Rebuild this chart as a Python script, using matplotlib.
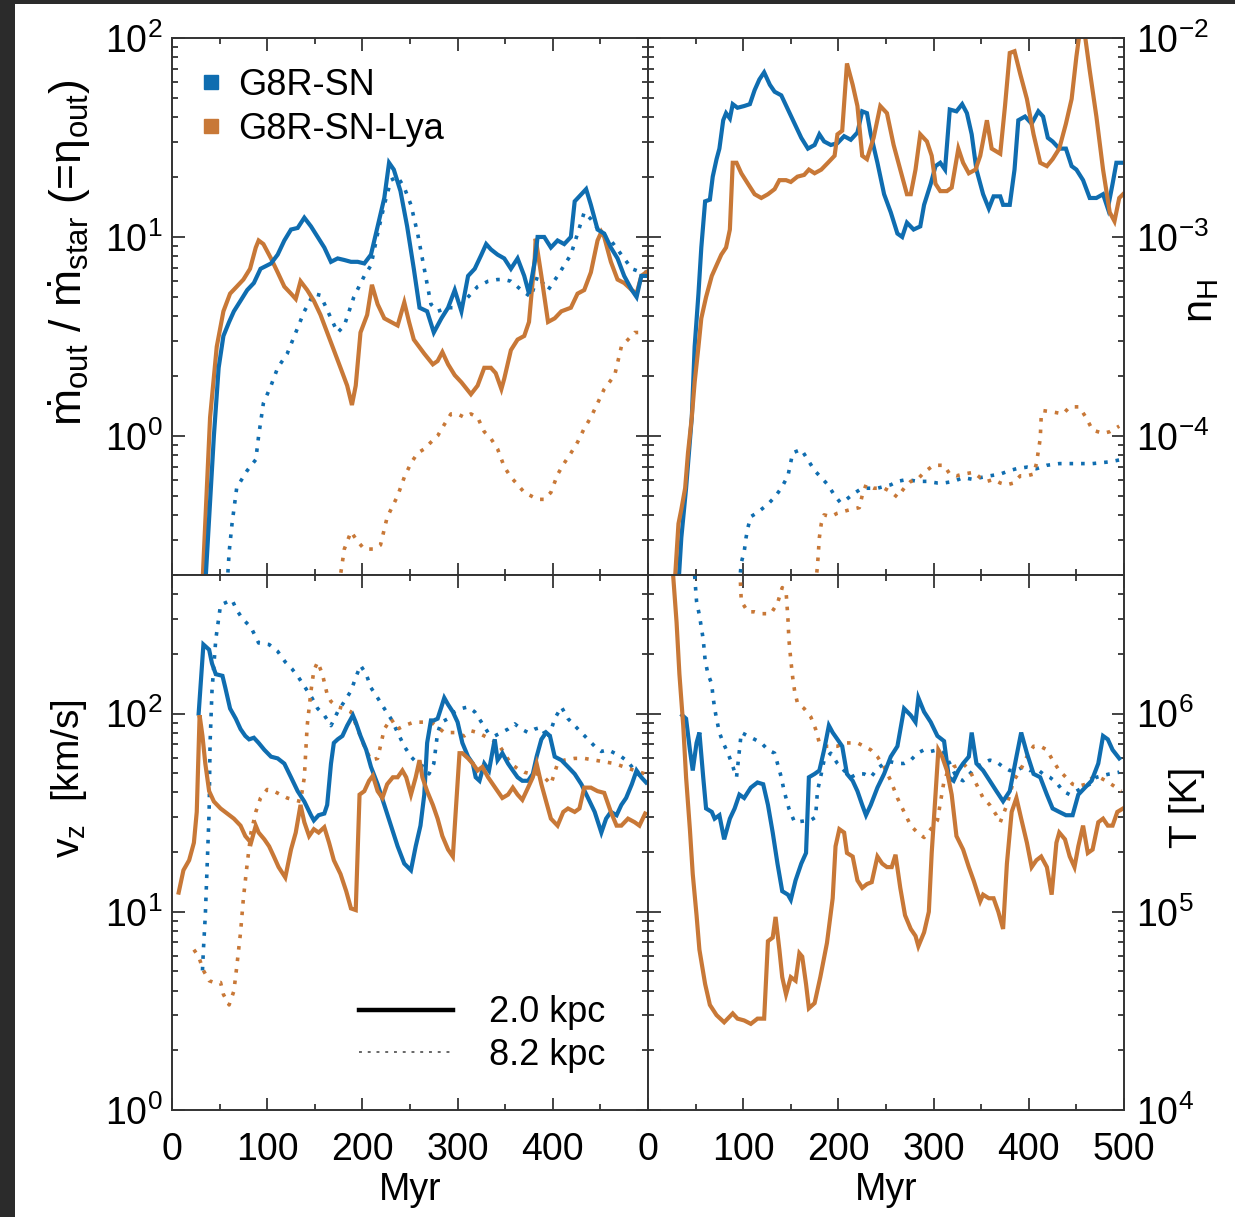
import matplotlib
matplotlib.use("Agg")
import matplotlib.pyplot as plt
from matplotlib.lines import Line2D
from matplotlib.patches import Rectangle
from matplotlib.ticker import LogLocator, FixedLocator, NullFormatter

plt.rcParams['font.family'] = ['Liberation Sans', 'DejaVu Sans']
plt.rcParams['mathtext.fontset'] = 'custom'
plt.rcParams['mathtext.rm'] = 'Liberation Sans'
plt.rcParams['mathtext.it'] = 'Liberation Sans:italic'
plt.rcParams['mathtext.default'] = 'regular'
plt.rcParams['axes.unicode_minus'] = False

BLUE = '#0f6db0'
ORANGE = '#c87837'

# (Myr, value) pairs
# outflow loading factor
eta_sn_2 = [(35, 0.18), (44, 1.0), (49, 2.2), (54, 3.18), (60, 3.74), (65, 4.23), (72, 4.78), (79, 5.41), (86, 5.87),
            (93, 6.92), (104, 7.36), (111, 8.15), (118, 9.6), (125, 10.9), (132, 11.1), (139, 12.5), (146, 11.3),
            (153, 10.0), (160, 8.85), (167, 7.5), (174, 7.8), (181, 7.66), (188, 7.5), (195, 7.5), (202, 7.36),
            (209, 8.15), (216, 11.3), (223, 15.7), (228, 23.6), (233, 21.8), (240, 17.0), (247, 11.3), (254, 6.92),
            (260, 4.41), (268, 4.23), (275, 3.31), (283, 3.9), (290, 4.41), (297, 5.41), (304, 4.23), (311, 6.37),
            (318, 6.92), (325, 8.15), (330, 9.21), (335, 8.66), (342, 8.15), (349, 7.8), (356, 6.92), (363, 7.8),
            (370, 6.37), (375, 5.19), (381, 7.5), (384, 10.0), (391, 10.0), (398, 8.85), (405, 9.6), (412, 9.21),
            (419, 10.0), (423, 15.1), (430, 16.4), (435, 17.4), (440, 14.5), (447, 10.9), (454, 10.4), (461, 8.85),
            (468, 7.8), (475, 6.37), (483, 5.41), (488, 4.99), (493, 6.37), (498, 6.37)]
eta_lya_2 = [(32, 0.18), (40, 1.24), (47, 2.81), (54, 4.23), (61, 5.19), (68, 5.63), (75, 6.11), (82, 6.92), (88, 8.85),
             (91, 9.6), (96, 9.21), (104, 7.8), (111, 6.64), (118, 5.63), (125, 5.19), (130, 4.88), (135, 5.99),
             (142, 5.41), (149, 4.78), (156, 4.06), (163, 3.31), (170, 2.70), (177, 2.2), (184, 1.79), (189, 1.43),
             (193, 1.79), (198, 3.31), (205, 4.06), (210, 5.75), (216, 4.59), (223, 3.9), (230, 3.74), (237, 3.59),
             (244, 4.69), (249, 3.74), (254, 3.05), (265, 2.59), (274, 2.29), (279, 2.38), (284, 2.64), (290, 2.29),
             (297, 2.02), (304, 1.86), (314, 1.62), (321, 1.79), (328, 2.2), (335, 2.2), (340, 2.07), (346, 1.72),
             (349, 1.94), (356, 2.70), (363, 3.05), (370, 3.18), (375, 3.74), (381, 7.8), (382, 9.8), (388, 6.37),
             (395, 3.74), (402, 3.9), (409, 4.23), (419, 4.41), (426, 5.19), (433, 5.41), (440, 6.64), (447, 9.6),
             (451, 10.6), (454, 10.0), (461, 7.5), (468, 6.11), (475, 5.87), (483, 5.41), (488, 5.19), (493, 6.37),
             (498, 6.64)]
eta_sn_8 = [(58, 0.18), (60, 0.26), (63, 0.36), (68, 0.55), (79, 0.67), (88, 0.76), (91, 1.0), (96, 1.46), (104, 1.79),
            (111, 2.2), (121, 2.59), (130, 3.31), (139, 4.23), (149, 5.19), (156, 5.09), (167, 3.9), (174, 3.31),
            (181, 3.59), (191, 4.99), (202, 6.37), (209, 7.2), (216, 10.4), (223, 14.5), (230, 19.3), (237, 20.1),
            (244, 17.7), (251, 14.5), (258, 10.4), (265, 6.92), (272, 4.59), (279, 4.23), (290, 4.41), (300, 4.41),
            (311, 4.99), (321, 5.63), (332, 5.99), (342, 6.11), (349, 6.11), (356, 5.99), (367, 5.41), (377, 4.99),
            (384, 6.37), (395, 5.41), (405, 6.37), (419, 8.15), (426, 10.4), (433, 13.3), (440, 12.3), (451, 10.4),
            (461, 9.6), (472, 8.15), (483, 6.92), (493, 6.64), (498, 6.64)]
eta_lya_8 = [(175, 0.18), (177, 0.20), (181, 0.27), (188, 0.33), (195, 0.295), (202, 0.27), (212, 0.27), (219, 0.283),
             (226, 0.39), (237, 0.50), (244, 0.62), (251, 0.73), (258, 0.82), (265, 0.86), (272, 0.93), (279, 1.0),
             (286, 1.14), (293, 1.29), (300, 1.29), (307, 1.24), (314, 1.29), (321, 1.24), (328, 1.05), (335, 0.97),
             (342, 0.86), (349, 0.70), (356, 0.62), (363, 0.57), (370, 0.52), (377, 0.50), (384, 0.48), (391, 0.48),
             (398, 0.52), (405, 0.64), (412, 0.73), (419, 0.82), (426, 0.93), (433, 1.09), (440, 1.24), (447, 1.46),
             (454, 1.72), (465, 2.02), (472, 2.81), (479, 3.05), (486, 3.31), (497, 3.31)]

# hydrogen number density
nh_sn_2 = [(32, 1.8e-5), (35, 3.08e-5), (40, 5.46e-5), (46, 1.24e-4), (49, 2.81e-4), (53, 5.19e-4), (56, 8.85e-4),
           (60, 1.51e-3), (65, 1.54e-3), (68, 2.01e-3), (72, 2.46e-3), (75, 2.78e-3), (79, 3.86e-3), (82, 4.19e-3),
           (86, 3.94e-3), (89, 4.65e-3), (94, 4.46e-3), (101, 4.55e-3), (107, 4.65e-3), (112, 5.47e-3), (117, 6.19e-3),
           (122, 6.72e-3), (128, 5.82e-3), (133, 5.37e-3), (140, 5.15e-3), (147, 4.37e-3), (154, 3.71e-3),
           (161, 3.15e-3), (168, 2.78e-3), (175, 2.90e-3), (180, 3.28e-3), (185, 3.02e-3), (192, 2.90e-3),
           (199, 2.96e-3), (206, 3.21e-3), (213, 3.08e-3), (220, 3.35e-3), (225, 4.28e-3), (230, 4.19e-3),
           (234, 3.28e-3), (241, 2.36e-3), (248, 1.64e-3), (255, 1.33e-3), (262, 1.04e-3), (267, 1.0e-3),
           (272, 1.18e-3), (279, 1.09e-3), (286, 1.13e-3), (290, 1.45e-3), (297, 1.85e-3), (302, 2.27e-3),
           (307, 2.36e-3), (312, 2.18e-3), (317, 4.37e-3), (324, 4.28e-3), (330, 4.65e-3), (335, 4.19e-3),
           (340, 3.28e-3), (345, 2.18e-3), (352, 1.64e-3), (358, 1.39e-3), (363, 1.60e-3), (370, 1.60e-3),
           (373, 1.45e-3), (380, 1.45e-3), (385, 2.18e-3), (389, 3.86e-3), (396, 4.03e-3), (403, 3.71e-3),
           (410, 4.28e-3), (415, 4.03e-3), (420, 3.15e-3), (425, 3.02e-3), (432, 2.78e-3), (439, 2.78e-3),
           (445, 2.27e-3), (450, 2.18e-3), (457, 1.93e-3), (464, 1.57e-3), (471, 1.57e-3), (478, 1.64e-3),
           (483, 1.39e-3), (488, 1.85e-3), (492, 2.36e-3), (497, 2.36e-3)]
nh_lya_2 = [(28, 1.8e-5), (32, 3.62e-5), (35, 4.27e-5), (39, 5.46e-5), (42, 8.22e-5), (46, 1.24e-4), (49, 1.86e-4),
            (53, 2.81e-4), (56, 3.90e-4), (61, 4.99e-4), (67, 6.37e-4), (72, 7.21e-4), (77, 8.15e-4), (82, 8.85e-4),
            (86, 1.09e-3), (89, 2.36e-3), (93, 2.36e-3), (98, 2.09e-3), (105, 1.85e-3), (112, 1.64e-3), (119, 1.57e-3),
            (126, 1.64e-3), (133, 1.74e-3), (138, 1.93e-3), (145, 1.93e-3), (150, 1.89e-3), (157, 2.01e-3),
            (164, 2.05e-3), (169, 2.18e-3), (175, 2.09e-3), (182, 2.18e-3), (189, 2.36e-3), (196, 2.56e-3),
            (199, 3.28e-3), (204, 3.42e-3), (209, 7.45e-3), (215, 5.82e-3), (220, 4.55e-3), (225, 2.56e-3),
            (230, 2.46e-3), (237, 3.15e-3), (244, 4.55e-3), (251, 4.19e-3), (258, 2.90e-3), (265, 2.18e-3),
            (272, 1.64e-3), (276, 1.64e-3), (281, 2.18e-3), (286, 3.28e-3), (293, 3.02e-3), (298, 2.56e-3),
            (302, 1.85e-3), (307, 1.70e-3), (314, 1.70e-3), (319, 1.77e-3), (326, 2.78e-3), (331, 2.36e-3),
            (337, 2.09e-3), (344, 2.18e-3), (349, 2.56e-3), (356, 3.86e-3), (361, 2.78e-3), (370, 2.62e-3),
            (375, 4.55e-3), (380, 8.41e-3), (385, 8.58e-3), (391, 6.59e-3), (398, 4.94e-3), (405, 3.28e-3),
            (412, 2.36e-3), (419, 2.27e-3), (425, 2.46e-3), (432, 2.78e-3), (439, 3.71e-3), (445, 4.94e-3),
            (450, 8.07e-3), (453, 1.03e-2), (459, 1.03e-2), (464, 6.86e-3), (471, 4.03e-3), (478, 2.18e-3),
            (485, 1.33e-3), (490, 1.20e-3), (495, 1.57e-3), (499, 1.64e-3)]
nh_sn_8 = [(96, 1.8e-5), (98, 2.31e-5), (101, 2.61e-5), (103, 3.08e-5), (105, 3.47e-5), (108, 3.93e-5), (114, 4.09e-5),
           (119, 4.27e-5), (126, 4.54e-5), (133, 4.92e-5), (140, 5.46e-5), (147, 6.30e-5), (152, 8.22e-5),
           (161, 8.56e-5), (168, 7.57e-5), (175, 6.70e-5), (182, 6.17e-5), (189, 5.68e-5), (196, 5.02e-5),
           (202, 4.63e-5), (209, 4.82e-5), (216, 5.13e-5), (225, 5.46e-5), (234, 5.46e-5), (241, 5.46e-5),
           (248, 5.57e-5), (255, 5.68e-5), (262, 5.91e-5), (272, 6.04e-5), (283, 5.91e-5), (293, 5.91e-5),
           (304, 5.80e-5), (311, 5.80e-5), (321, 5.91e-5), (331, 6.17e-5), (342, 6.04e-5), (349, 6.17e-5),
           (359, 6.30e-5), (370, 6.43e-5), (380, 6.70e-5), (387, 6.84e-5), (398, 6.97e-5), (408, 6.84e-5),
           (419, 7.12e-5), (432, 7.26e-5), (450, 7.26e-5), (467, 7.26e-5), (485, 7.41e-5), (495, 7.57e-5)]
nh_lya_8 = [(176, 1.8e-5), (178, 2.21e-5), (180, 3.08e-5), (182, 3.62e-5), (185, 4.01e-5), (192, 3.93e-5),
            (199, 4.09e-5), (206, 4.18e-5), (213, 4.27e-5), (222, 4.36e-5), (225, 5.02e-5), (229, 5.68e-5),
            (237, 5.46e-5), (248, 5.46e-5), (255, 5.24e-5), (262, 4.92e-5), (269, 5.46e-5), (276, 5.91e-5),
            (283, 6.04e-5), (290, 6.56e-5), (300, 7.12e-5), (311, 7.12e-5), (317, 6.43e-5), (324, 6.30e-5),
            (331, 6.43e-5), (342, 6.56e-5), (349, 6.17e-5), (356, 5.91e-5), (363, 6.04e-5), (370, 5.80e-5),
            (377, 5.68e-5), (384, 5.80e-5), (391, 6.30e-5), (398, 6.30e-5), (405, 6.43e-5), (408, 7.26e-5),
            (412, 9.68e-5), (413, 1.24e-4), (415, 1.34e-4), (425, 1.32e-4), (436, 1.29e-4), (443, 1.40e-4),
            (453, 1.40e-4), (460, 1.24e-4), (467, 1.07e-4), (478, 1.03e-4), (485, 1.05e-4), (495, 1.12e-4)]

# outflow velocity [km/s]
vz_sn_2 = [(28, 100), (33, 223), (39, 210), (42, 179), (46, 158), (53, 155), (56, 135), (61, 106), (67, 94.2),
           (72, 83.5), (77, 77.1), (81, 74.1), (86, 75.5), (91, 71.1), (97, 65.6), (104, 60.6), (111, 59.4),
           (118, 55.9), (125, 47.7), (132, 40.6), (139, 36.0), (146, 30.7), (149, 28.9), (154, 30.7), (160, 31.3),
           (163, 34.6), (167, 55.9), (170, 71.1), (174, 74.1), (179, 77.1), (184, 86.9), (190, 98.0), (193, 90.5),
           (198, 77.1), (204, 65.6), (209, 53.8), (216, 44.0), (223, 34.6), (230, 27.2), (237, 21.4), (244, 17.5),
           (251, 16.2), (256, 21.4), (261, 27.2), (265, 39.0), (268, 71.1), (272, 92.3), (275, 92.3), (279, 94.2),
           (283, 108), (286, 120), (290, 111), (295, 102), (300, 90.5), (305, 71.1), (311, 60.6), (316, 55.9),
           (319, 47.7), (323, 45.8), (328, 55.9), (333, 51.6), (339, 74.1), (342, 58.2), (347, 63.1), (353, 55.9),
           (358, 51.6), (363, 47.7), (368, 45.8), (374, 45.8), (379, 49.6), (383, 60.6), (388, 74.1), (393, 80.2),
           (397, 77.1), (402, 60.6), (409, 58.2), (416, 53.8), (423, 49.6), (430, 44.0), (437, 37.5), (444, 31.9),
           (451, 25.1), (456, 29.5), (461, 31.9), (467, 30.7), (472, 34.6), (477, 37.5), (483, 44.0), (488, 51.6),
           (493, 47.7), (498, 44.9)]
vz_lya_2 = [(7, 12.5), (12, 16.2), (18, 18.2), (23, 22.3), (26, 31.9), (29, 98.0), (32, 77.1), (35, 55.9), (39, 40.6),
            (44, 36.0), (51, 33.2), (58, 31.3), (65, 29.5), (72, 27.2), (77, 24.1), (83, 22.3), (88, 27.2), (91, 25.1),
            (97, 23.2), (102, 21.4), (107, 19.0), (112, 16.8), (119, 14.9), (125, 20.6), (130, 25.1), (135, 34.6),
            (139, 28.3), (144, 24.1), (149, 26.1), (154, 25.1), (160, 26.7), (165, 22.3), (170, 18.2), (177, 15.5),
            (183, 12.7), (188, 10.4), (193, 10.2), (197, 39.0), (202, 40.6), (207, 45.8), (211, 48.6), (216, 40.6),
            (221, 37.5), (226, 44.0), (232, 47.7), (237, 47.7), (242, 51.6), (246, 47.7), (251, 39.0), (256, 47.7),
            (260, 58.2), (263, 47.7), (268, 40.6), (274, 34.6), (279, 29.5), (284, 24.1), (290, 20.6), (295, 19.0),
            (298, 31.9), (302, 63.1), (305, 63.1), (311, 59.4), (316, 55.9), (321, 51.6), (326, 53.8), (332, 47.7),
            (337, 44.0), (342, 40.6), (347, 37.5), (353, 39.0), (358, 42.3), (363, 39.0), (368, 36.7), (374, 42.3),
            (379, 47.7), (383, 55.9), (388, 44.0), (393, 36.0), (398, 29.5), (405, 27.2), (411, 31.9), (416, 33.2),
            (423, 31.9), (428, 33.2), (433, 42.3), (440, 42.3), (447, 40.6), (454, 39.8), (461, 31.9), (467, 27.2),
            (472, 27.2), (479, 29.5), (486, 28.3), (491, 27.2), (497, 31.3)]
vz_sn_8 = [(32, 5.06), (33, 6.44), (35, 9.6), (37, 17.5), (39, 31.9), (40, 71.1), (42, 130), (46, 237), (51, 353),
           (63, 375), (68, 333), (74, 301), (83, 272), (91, 227), (102, 223), (111, 206), (119, 182), (126, 168),
           (133, 152), (140, 135), (147, 120), (153, 106), (160, 98), (167, 86.9), (174, 102), (181, 115), (188, 130),
           (193, 152), (198, 175), (204, 158), (209, 135), (216, 120), (223, 106), (230, 94.2), (237, 80.2),
           (244, 68.4), (251, 60.6), (258, 55.9), (265, 53.8), (270, 49.6), (275, 55.9), (279, 80.2), (283, 90.5),
           (290, 94.2), (297, 102), (304, 106), (311, 108), (318, 102), (325, 90.5), (332, 80.2), (339, 77.1),
           (346, 80.2), (353, 83.5), (360, 88.7), (367, 83.5), (374, 80.2), (381, 83.5), (388, 85.2), (395, 74.1),
           (402, 94.2), (409, 108), (416, 94.2), (423, 86.9), (430, 80.2), (437, 74.1), (444, 68.4), (451, 64.4),
           (458, 65.6), (465, 63.1), (472, 60.6), (479, 57.1), (486, 51.6), (493, 47.7), (498, 47.7)]
vz_lya_8 = [(23, 6.44), (28, 5.94), (33, 5.06), (39, 4.49), (44, 4.40), (51, 4.40), (54, 3.83), (60, 3.39), (65, 3.98),
            (68, 5.27), (72, 7.87), (75, 11.7), (79, 17.5), (83, 25.1), (88, 31.9), (93, 37.5), (100, 41.4),
            (107, 40.6), (114, 39.0), (121, 37.5), (128, 36.7), (135, 36.0), (139, 47.7), (142, 86.9), (146, 130),
            (149, 165), (153, 182), (158, 158), (163, 125), (167, 115), (174, 108), (181, 106), (188, 102), (195, 83.5),
            (202, 68.4), (209, 58.2), (216, 59.4), (223, 83.5), (230, 94.2), (237, 83.5), (244, 86.9), (254, 90.5),
            (265, 90.5), (275, 88.7), (286, 80.2), (297, 80.2), (307, 77.1), (314, 81.9), (321, 80.2), (328, 77.1),
            (335, 74.1), (342, 71.1), (349, 63.1), (356, 55.9), (363, 52.7), (370, 50.6), (377, 49.6), (384, 49.6),
            (391, 47.7), (398, 44.0), (405, 55.9), (412, 58.2), (423, 59.4), (433, 59.4), (444, 58.2), (454, 57.1),
            (465, 55.9), (475, 53.8), (486, 51.6), (497, 49.6)]

# temperature [K]
t_sn_2 = [(36, 9.8e5), (40, 9.42e5), (44, 6.56e5), (47, 5.16e5), (51, 7.11e5), (54, 8.02e5), (58, 4.77e5),
          (61, 3.32e5), (67, 3.19e5), (70, 2.95e5), (75, 3.07e5), (80, 2.32e5), (86, 2.95e5), (91, 3.32e5),
          (96, 3.90e5), (101, 3.75e5), (108, 4.23e5), (115, 4.49e5), (121, 4.40e5), (126, 3.46e5), (131, 2.51e5),
          (136, 1.75e5), (141, 1.27e5), (147, 1.22e5), (150, 1.15e5), (155, 1.44e5), (161, 1.75e5), (166, 1.98e5),
          (169, 4.77e5), (175, 4.96e5), (180, 5.16e5), (185, 6.56e5), (190, 8.7e5), (194, 8.02e5), (199, 7.41e5),
          (204, 6.84e5), (209, 4.96e5), (215, 4.58e5), (220, 4.06e5), (225, 3.46e5), (229, 3.07e5), (234, 3.46e5),
          (241, 4.23e5), (248, 4.96e5), (255, 6.06e5), (262, 6.84e5), (269, 1.06e6), (276, 9.8e5), (281, 9.05e5),
          (284, 1.20e6), (290, 1.02e6), (297, 9.05e5), (304, 7.71e5), (311, 7.26e5), (316, 4.77e5), (321, 4.58e5),
          (326, 5.16e5), (331, 5.60e5), (337, 6.06e5), (340, 8.02e5), (345, 5.60e5), (352, 5.16e5), (359, 4.58e5),
          (366, 4.06e5), (373, 3.61e5), (380, 4.06e5), (387, 6.06e5), (392, 8.02e5), (398, 6.31e5), (405, 4.96e5),
          (412, 4.77e5), (419, 3.90e5), (425, 3.32e5), (432, 3.19e5), (439, 3.07e5), (446, 3.07e5), (452, 3.90e5),
          (459, 4.23e5), (466, 4.58e5), (473, 5.60e5), (478, 7.71e5), (483, 7.41e5), (488, 6.56e5), (495, 5.94e5)]
t_lya_2 = [(26, 5.3e6), (30, 2.89e6), (33, 1.58e6), (37, 8.7e5), (40, 4.77e5), (44, 2.61e5), (47, 1.55e5), (51, 9.6e4),
           (54, 6.44e4), (60, 4.32e4), (65, 3.39e4), (72, 3.01e4), (80, 2.77e4), (89, 3.07e4), (94, 2.89e4),
           (101, 2.83e4), (108, 2.72e4), (115, 2.89e4), (122, 2.89e4), (126, 7.11e4), (131, 7.41e4), (134, 9.42e4),
           (138, 6.44e4), (141, 4.68e4), (145, 3.83e4), (150, 4.68e4), (155, 4.49e4), (159, 6.18e4), (162, 5.94e4),
           (166, 4.32e4), (169, 3.26e4), (175, 3.46e4), (181, 4.68e4), (188, 6.97e4), (194, 1.17e5), (197, 2.14e5),
           (201, 2.61e5), (206, 2.51e5), (209, 1.98e5), (215, 1.90e5), (220, 1.44e5), (225, 1.32e5), (230, 1.38e5),
           (235, 1.41e5), (241, 1.90e5), (246, 1.75e5), (251, 1.68e5), (256, 1.68e5), (260, 1.94e5), (265, 1.32e5),
           (270, 9.6e4), (276, 8.19e4), (281, 7.55e4), (284, 6.70e4), (290, 7.87e4), (295, 1.0e5), (298, 1.98e5),
           (302, 3.90e5), (305, 6.56e5), (309, 6.06e5), (314, 5.16e5), (319, 3.90e5), (324, 2.41e5), (331, 2.06e5),
           (337, 1.68e5), (342, 1.44e5), (349, 1.13e5), (352, 1.22e5), (358, 1.17e5), (363, 1.17e5), (368, 1.0e5),
           (373, 8.19e4), (377, 1.75e5), (382, 3.19e5), (387, 3.75e5), (392, 2.95e5), (398, 2.23e5), (403, 1.68e5),
           (408, 1.82e5), (413, 1.90e5), (419, 1.68e5), (424, 1.22e5), (429, 2.23e5), (432, 2.51e5), (438, 2.32e5),
           (443, 1.90e5), (448, 1.68e5), (452, 2.14e5), (457, 2.72e5), (462, 1.98e5), (467, 2.06e5), (473, 2.83e5),
           (478, 2.95e5), (483, 2.72e5), (488, 2.72e5), (493, 3.19e5), (499, 3.32e5)]
t_sn_8 = [(47, 6.5e6), (49, 4.97e6), (51, 3.68e6), (54, 3.13e6), (58, 2.37e6), (60, 1.86e6), (63, 1.58e6),
          (67, 1.41e6), (68, 1.25e6), (70, 1.06e6), (72, 9.42e5), (75, 8.02e5), (79, 7.11e5), (84, 6.31e5),
          (88, 5.60e5), (93, 4.77e5), (98, 8.02e5), (105, 7.71e5), (112, 7.41e5), (119, 7.11e5), (126, 6.56e5),
          (133, 6.31e5), (136, 5.60e5), (140, 4.77e5), (143, 4.06e5), (148, 3.32e5), (154, 2.83e5), (171, 2.9e5),
          (176, 3.0e5), (178, 4.06e5), (182, 4.96e5), (185, 5.82e5), (192, 6.31e5), (199, 5.60e5), (206, 5.16e5),
          (213, 4.77e5), (220, 4.96e5), (227, 4.96e5), (234, 4.77e5), (241, 5.27e5), (248, 5.60e5), (255, 5.71e5),
          (262, 5.60e5), (269, 5.60e5), (276, 5.82e5), (283, 6.31e5), (290, 6.56e5), (297, 6.44e5), (304, 6.56e5),
          (311, 6.31e5), (317, 5.60e5), (324, 4.77e5), (331, 4.58e5), (338, 4.96e5), (345, 5.38e5), (352, 5.60e5),
          (359, 5.82e5), (366, 5.71e5), (373, 5.38e5), (380, 5.16e5), (387, 5.16e5), (394, 5.38e5), (401, 5.16e5),
          (408, 5.27e5), (415, 4.96e5), (422, 4.77e5), (429, 4.49e5), (436, 4.06e5), (443, 3.90e5), (450, 4.06e5),
          (457, 4.23e5), (464, 4.40e5), (471, 4.77e5), (478, 4.87e5), (485, 4.96e5), (495, 5.06e5)]
t_lya_8 = [(96, 6e6), (98, 3.68e6), (105, 3.26e6), (112, 3.26e6), (119, 3.19e6), (129, 3.19e6), (136, 3.6e6),
           (141, 4.32e6), (145, 4.14e6), (147, 3.01e6), (148, 2.37e6), (150, 1.86e6), (152, 1.52e6), (154, 1.30e6),
           (157, 1.13e6), (164, 1.06e6), (171, 9.62e5), (176, 8.36e5), (180, 7.11e5), (185, 6.84e5), (192, 6.84e5),
           (199, 6.84e5), (206, 7.11e5), (213, 7.11e5), (220, 7.11e5), (227, 6.84e5), (234, 6.56e5), (241, 6.06e5),
           (248, 5.38e5), (255, 4.58e5), (262, 3.75e5), (269, 3.19e5), (276, 2.72e5), (283, 2.51e5), (290, 2.37e5),
           (297, 2.61e5), (304, 2.89e5), (311, 4.58e5), (314, 4.96e5), (321, 5.38e5), (331, 5.60e5), (338, 5.16e5),
           (345, 4.40e5), (352, 3.75e5), (359, 3.46e5), (366, 3.07e5), (370, 2.83e5), (377, 3.46e5), (384, 4.58e5),
           (391, 5.16e5), (398, 6.06e5), (405, 6.84e5), (412, 6.84e5), (419, 6.56e5), (425, 5.82e5), (432, 5.16e5),
           (439, 4.77e5), (446, 4.40e5), (453, 4.31e5), (460, 4.40e5), (467, 4.77e5), (474, 4.77e5), (481, 4.58e5),
           (492, 4.23e5), (497, 4.06e5)]

x_ticks = [0, 100, 200, 300, 400, 500]

SOLID_LW = 3.0
DOT_STYLE = (0, (1.0, 2.2))


def draw(ax, series_list):
    for data, color, style in series_list:
        t, v = zip(*data)
        if style == 'solid':
            ax.plot(t, v, color=color, lw=SOLID_LW, solid_joinstyle='miter')
        else:
            ax.plot(t, v, color=color, lw=2.6, linestyle=DOT_STYLE)


def style_axis(ax, ylim, side, show_x, x_labels):
    ax.set_xlim(0, 500)
    ax.set_yscale('log')
    ax.set_ylim(*ylim)
    ax.xaxis.set_major_locator(FixedLocator(x_ticks))
    ax.xaxis.set_minor_locator(FixedLocator([50, 150, 250, 350, 450]))
    ax.yaxis.set_major_locator(LogLocator(base=10, numticks=20))
    ax.yaxis.set_minor_locator(LogLocator(base=10, subs=range(2, 10), numticks=20))
    ax.yaxis.set_minor_formatter(NullFormatter())
    ax.tick_params(which='both', direction='in', top=True, bottom=True, left=True, right=True,
                   width=1.2, colors='#222222', labelcolor='black', labelsize=27)
    ax.tick_params(which='major', length=9)
    ax.tick_params(which='minor', length=4.5)
    ax.tick_params(axis='x', pad=16)
    if side == 'right':
        ax.tick_params(axis='y', labelleft=False, labelright=True, pad=9)
    else:
        ax.tick_params(axis='y', labelleft=True, labelright=False, pad=7)
    if show_x:
        ax.set_xticklabels(x_labels)
        ax.set_xlabel('Myr', fontsize=27, labelpad=3)
    else:
        ax.tick_params(axis='x', labelbottom=False)
    for sp in ax.spines.values():
        sp.set_linewidth(1.4)
        sp.set_color('#333333')


fig = plt.figure(figsize=(12.35, 12.17), dpi=100)
fig.patch.set_facecolor('#2b2b2b')
fig.patches.append(Rectangle((15 / 1235, 0), 1, 1 - 4 / 1217, transform=fig.transFigure,
                             facecolor='white', edgecolor='none', zorder=-1))

x0, x1, x2 = 172 / 1235, 648 / 1235, 1124 / 1235
y0, y1, y2 = 1 - 1110 / 1217, 1 - 575 / 1217, 1 - 38 / 1217
w = x1 - x0
h_top = y2 - y1
h_bot = y1 - y0

ax_eta = fig.add_axes([x0, y1, w, h_top])
ax_nh = fig.add_axes([x1, y1, x2 - x1, h_top])
ax_vz = fig.add_axes([x0, y0, w, h_bot])
ax_t = fig.add_axes([x1, y0, x2 - x1, h_bot])

draw(ax_eta, [(eta_sn_8, BLUE, 'dot'), (eta_lya_8, ORANGE, 'dot'),
              (eta_lya_2, ORANGE, 'solid'), (eta_sn_2, BLUE, 'solid')])
draw(ax_nh, [(nh_sn_8, BLUE, 'dot'), (nh_lya_8, ORANGE, 'dot'),
             (nh_sn_2, BLUE, 'solid'), (nh_lya_2, ORANGE, 'solid')])
draw(ax_vz, [(vz_sn_8, BLUE, 'dot'), (vz_lya_8, ORANGE, 'dot'),
             (vz_sn_2, BLUE, 'solid'), (vz_lya_2, ORANGE, 'solid')])
draw(ax_t, [(t_sn_8, BLUE, 'dot'), (t_lya_8, ORANGE, 'dot'),
            (t_sn_2, BLUE, 'solid'), (t_lya_2, ORANGE, 'solid')])

style_axis(ax_eta, (0.2, 100), 'left', False, None)
style_axis(ax_nh, (2e-5, 1e-2), 'right', False, None)
style_axis(ax_vz, (1, 500), 'left', True, ['0', '100', '200', '300', '400', ''])
style_axis(ax_t, (1e4, 5e6), 'right', True, ['0', '100', '200', '300', '400', '500'])

ax_eta.set_ylabel(r'$\dot{m}_{out}$ / $\dot{m}_{star}$ (=$\eta_{out}$)', fontsize=32)
ax_eta.yaxis.set_label_coords(-0.165, 0.6)
ax_vz.set_ylabel(r'v$_z$  [km/s]', fontsize=28)
ax_vz.yaxis.set_label_coords(-0.175, 0.62)
ax_nh.yaxis.set_label_position('right')
ax_nh.set_ylabel(r'n$_H$', fontsize=30)
ax_nh.yaxis.set_label_coords(1.12, 0.51)
ax_t.yaxis.set_label_position('right')
ax_t.set_ylabel('T [K]', fontsize=28)
ax_t.yaxis.set_label_coords(1.095, 0.565)

sim_handles = [Line2D([], [], marker='s', ls='none', color=BLUE, markersize=10),
               Line2D([], [], marker='s', ls='none', color=ORANGE, markersize=10)]
ax_eta.legend(sim_handles, ['G8R-SN', 'G8R-SN-Lya'], loc='upper left', bbox_to_anchor=(0.06, 0.945),
              frameon=False, fontsize=26, handlelength=0.6, handletextpad=0.45, labelspacing=0.25,
              borderpad=0, borderaxespad=0)

rad_handles = [Line2D([], [], color='black', lw=3.2),
               Line2D([], [], color='#666666', lw=1.4, linestyle=(0, (1.5, 3)))]
ax_vz.legend(rad_handles, ['2.0 kpc', '8.2 kpc'], loc='lower right', bbox_to_anchor=(0.91, 0.07),
             frameon=False, fontsize=26, handlelength=2.6, handletextpad=1.0, labelspacing=0.2,
             borderpad=0, borderaxespad=0)

fig.savefig('out.png', dpi=100, facecolor=fig.get_facecolor())
